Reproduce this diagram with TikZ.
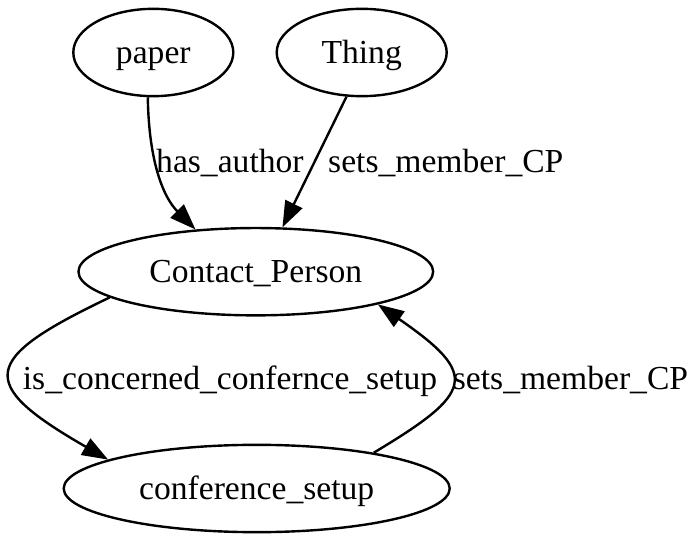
\documentclass[tikz,border=0pt]{standalone}
\usepackage{fontspec}
\setmainfont{Liberation Serif}
\usepackage{tikz}
\usetikzlibrary{arrows.meta,shapes.geometric}

\begin{document}
\begin{tikzpicture}[->,>={Triangle[length=19.5pt,width=14pt]},x=0.75pt,y=0.75pt,
			line width=1.8pt,font=\fontsize{25.2}{30}\selectfont]
			\tikzstyle{class}=[ellipse,draw=black,line width=1.8pt,inner sep=0pt,minimum height=65.5pt,
			text height=18pt,text depth=1.5pt]
			\tikzstyle{rel}=[inner sep=0pt,anchor=base west]
			\useasboundingbox (0,0) rectangle (700,543);
			
			\node[class, minimum width=120pt]    (paper)   at (153.3,490.5)  {paper};
			
			\node[class, minimum width=127.5pt]  (thing)   at (361.7,490.5)  {Thing};
			
			\node[class, minimum width=266pt]    (contact) at (255.8,271.3)  {Contact\_Person};
			
			\node[class, minimum width=289.5pt]  (setup)   at (256.7,54.5)   {conference\_setup};
			
			\node[rel] (author)  at (155,370.3)  {has\_author};
			
			\node[rel] (member1) at (327,370.3)  {sets\_member\_CP};
			
			\node[rel] (concern) at (21.7,153)   {is\_concerned\_confernce\_setup};
			
			\node[rel] (member2) at (451.7,153)  {sets\_member\_CP};
			
			\path
			
			(paper.263) edge[controls={+(1,-65) and +(-32,32)}] (contact.145)
			
			(thing.251) edge (contact.59)
			
			(contact.190) edge[controls={+(-130,-62) and +(-132,76)}] (setup.169)
			
			(setup.17) edge[controls={+(100.3,60.1) and +(102,-70.6)}] (contact.345);
			\end{tikzpicture}
\end{document}
